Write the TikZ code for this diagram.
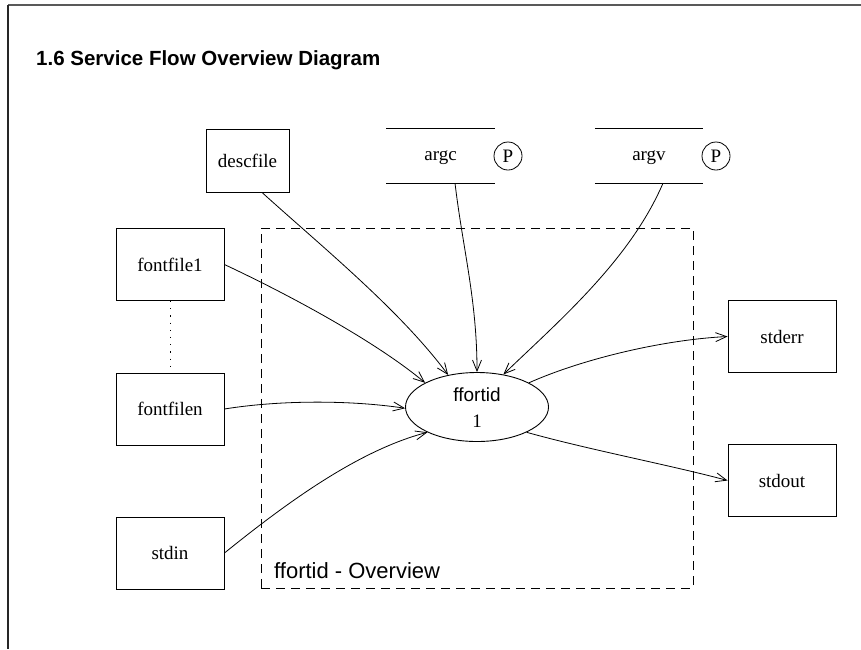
\documentclass[tikz,border=0pt]{standalone}
\usepackage{fontspec}
\setmainfont{Liberation Serif}
\setsansfont{Liberation Sans}
\usetikzlibrary{shapes.geometric,arrows.meta}
\begin{document}
\begin{tikzpicture}[x=1pt,y=-1pt,
  every node/.style={font=\fontsize{19}{22}\selectfont},
  box/.style={draw,line width=0.9pt,minimum width=108pt,minimum height=72pt,inner sep=0pt},
  store/.style={minimum width=108pt,minimum height=54pt,inner sep=0pt,text depth=0pt},
  storeline/.style={line width=0.9pt},
  pcirc/.style={draw,circle,line width=0.8pt,minimum size=28pt,inner sep=0pt},
  flow/.style={line width=0.8pt,-{Straight Barb[length=11pt,width=9pt,line width=0.8pt]}}
]
\useasboundingbox (0,0) rectangle (861,649);

% page frame
\draw[line width=1.6pt,black!65] (8,5) -- (861,5);
\draw[line width=1.3pt,black!85] (8,5) -- (8,649);

% heading
\node[anchor=west,inner sep=0pt,font=\sffamily\bfseries\fontsize{20.5}{24}\selectfont] (title) at (36,60) {1.6 Service Flow Overview Diagram};

% process boundary
\node[draw,dash pattern=on 9pt off 6pt,line width=0.8pt,minimum width=432pt,minimum height=360pt,inner sep=0pt] (ovw) at (477,408) {};
\node[anchor=west,inner sep=0pt,font=\sffamily\fontsize{22}{26}\selectfont] (ovwlabel) at (274,571) {ffortid - Overview};

% central process
\node[draw,ellipse,line width=0.9pt,minimum width=143pt,minimum height=69pt,inner sep=0pt] (ff) at (477,407) {};
\node[inner sep=0pt,font=\sffamily\fontsize{19}{22}\selectfont] (ffname) at (477,395) {ffortid};
\node[inner sep=0pt] (ffnum) at (477,421) {1};

% external entities
\node[box,minimum width=83pt,minimum height=63pt] (desc) at (247.5,160.5) {descfile};
\node[box] (ff1) at (170,264.5) {fontfile1};
\node[box] (ffn) at (170,409) {fontfilen};
\node[box] (stdin) at (170,553) {stdin};
\node[box] (stderr) at (782,336.5) {stderr};
\node[box] (stdout) at (782,480.5) {stdout};

% parameter stores
\node[store] (argc) at (440.5,156) {argc};
\draw[storeline] (argc.north west) -- (argc.north east);
\draw[storeline] (argc.south west) -- (argc.south east);
\node[pcirc] (argcp) at (508,156) {P};

\node[store] (argv) at (649,156) {argv};
\draw[storeline] (argv.north west) -- (argv.north east);
\draw[storeline] (argv.south west) -- (argv.south east);
\node[pcirc] (argvp) at (716,156) {P};

% fontfile series
\draw[line width=0.9pt,dash pattern=on 1.2pt off 6pt] (ff1.south) -- (ffn.north);

% data flows
\draw[flow] ([xshift=14.5pt]desc.south) .. controls (320,245) and (400,310) .. (ff.132);
\draw[flow] ([xshift=14.5pt]argc.south) .. controls (463,250) and (477,300) .. (ff.90);
\draw[flow] ([xshift=14pt]argv.south) .. controls (630,260) and (560,320) .. (ff.51);
\draw[flow] (ff1.east) .. controls (300,300) and (380,345) .. (ff.155);
\draw[flow] (ffn.east) .. controls (280,400) and (350,400) .. (ff.181);
\draw[flow] (stdin.east) .. controls (290,500) and (360,450) .. (ff.207);
\draw[flow] (ff.25) .. controls (580,360) and (660,340) .. (stderr.west);
\draw[flow] (ff.-27) .. controls (590,450) and (670,465) .. (stdout.west);
\end{tikzpicture}
\end{document}
